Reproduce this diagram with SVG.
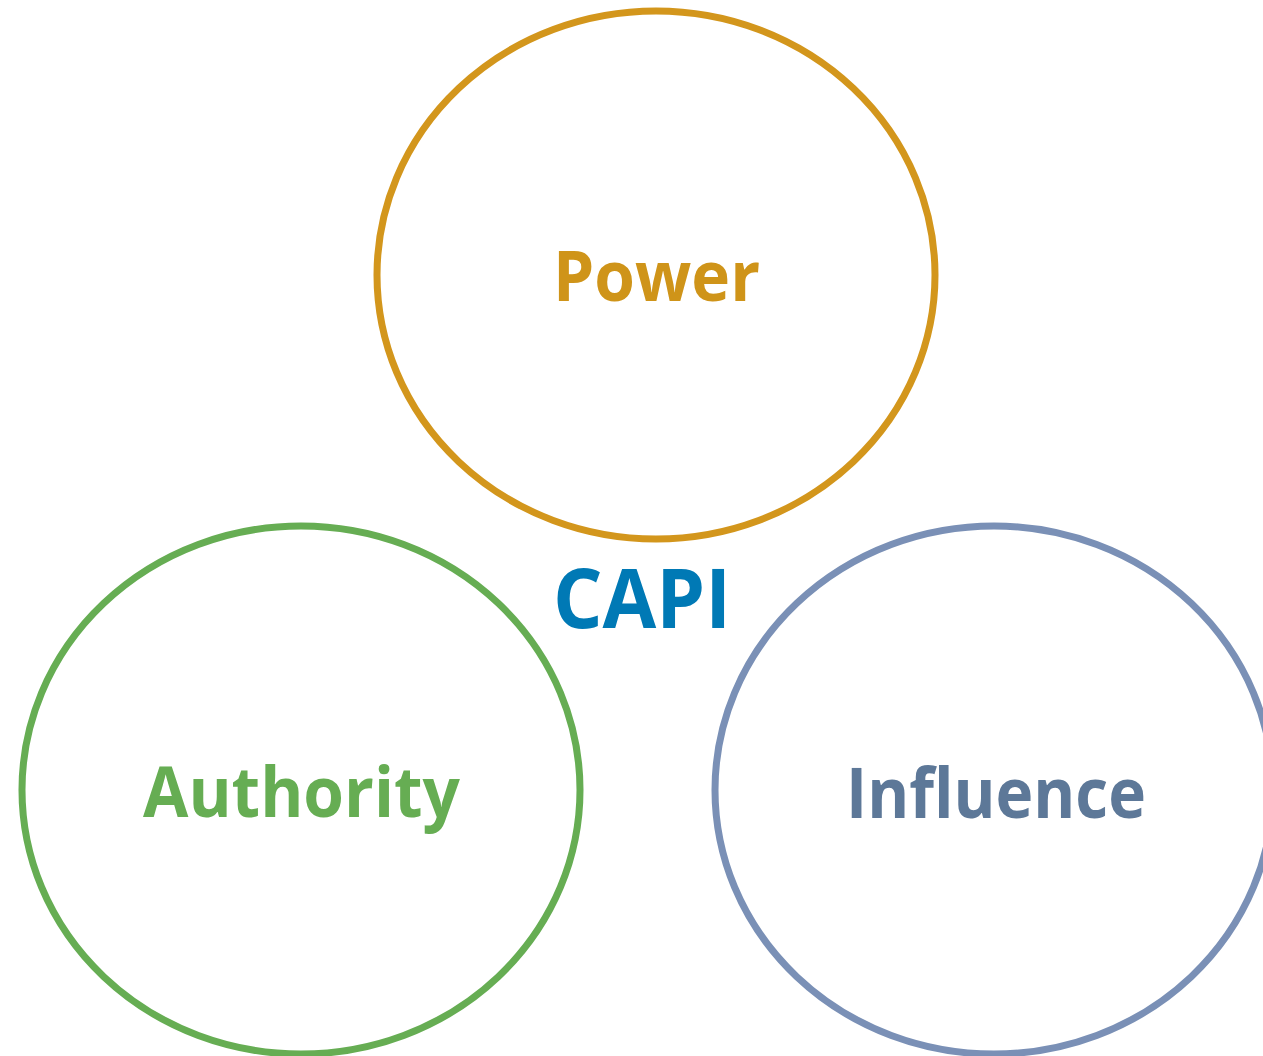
<svg xmlns="http://www.w3.org/2000/svg" width="1263" height="1056" viewBox="0 0 1263 1056">
<style>
.ring{fill:none;stroke-width:7}
.lbl{font-family:"Open Sans","Liberation Sans",sans-serif;font-weight:bold;text-anchor:middle}
</style>
<rect width="1263" height="1056" fill="#ffffff"/>
<g id="power">
<ellipse class="ring" cx="656" cy="275" rx="279" ry="264" stroke="#D3961C"/>
<text class="lbl" x="656.5" y="301" font-size="69" fill="#CF9419" textLength="207" lengthAdjust="spacingAndGlyphs">Power</text>
</g>
<g id="authority">
<ellipse class="ring" cx="301" cy="790" rx="279" ry="264" stroke="#66AD53"/>
<text class="lbl" x="301.5" y="817" font-size="69" fill="#66AD53" textLength="317" lengthAdjust="spacingAndGlyphs">Authority</text>
</g>
<g id="influence">
<ellipse class="ring" cx="994" cy="790" rx="279" ry="264" stroke="#7A90B6"/>
<text class="lbl" x="996" y="818" font-size="69" fill="#5D7898" textLength="300" lengthAdjust="spacingAndGlyphs">Influence</text>
</g>
<g id="capi">
<text class="lbl" x="642" y="628" font-size="83" fill="#0079B5" textLength="178" lengthAdjust="spacingAndGlyphs">CAPI</text>
</g>
<g id="connectors"></g>
</svg>
